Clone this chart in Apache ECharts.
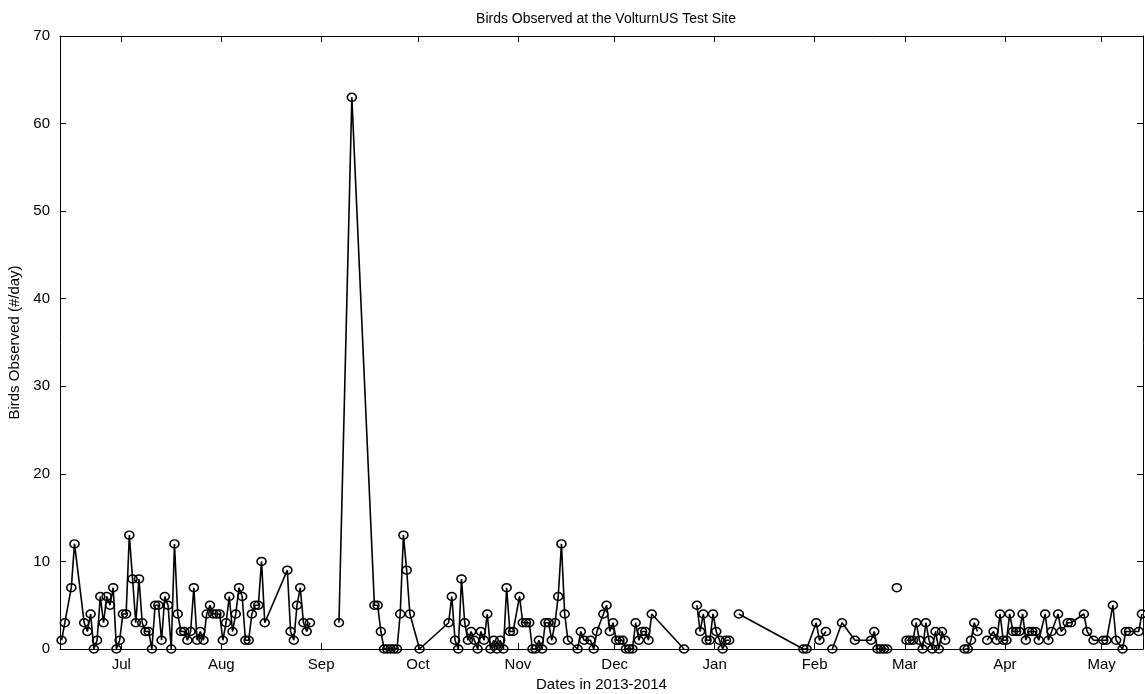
<!DOCTYPE html>
<html>
<head>
<meta charset="utf-8">
<script src="https://cdn.jsdelivr.net/npm/echarts@6/dist/echarts.min.js"></script>
<style>
  html, body { margin: 0; padding: 0; background: #fff; }
  #chart { width: 1145px; height: 694px; }
</style>
</head>
<body>
<div id="chart"></div>
<script>
// daily counts; a null value breaks the line (no survey)
const obsDates = [
  '2013-06-12','2013-06-13','2013-06-15','2013-06-16','2013-06-19','2013-06-20','2013-06-21','2013-06-22',
  '2013-06-23','2013-06-24','2013-06-25','2013-06-26','2013-06-27','2013-06-28','2013-06-29','2013-06-30',
  '2013-07-01','2013-07-02','2013-07-03','2013-07-04','2013-07-05','2013-07-06','2013-07-07','2013-07-08',
  '2013-07-09','2013-07-10','2013-07-11','2013-07-12','2013-07-13','2013-07-14','2013-07-15','2013-07-16',
  '2013-07-17','2013-07-18','2013-07-19','2013-07-20','2013-07-21','2013-07-22','2013-07-23','2013-07-24',
  '2013-07-25','2013-07-26','2013-07-27','2013-07-28','2013-07-29','2013-07-30','2013-07-31',
  '2013-08-01','2013-08-02','2013-08-03','2013-08-04','2013-08-05','2013-08-06','2013-08-07','2013-08-08',
  '2013-08-09','2013-08-10','2013-08-11','2013-08-12','2013-08-13','2013-08-14',
  '2013-08-21','2013-08-22','2013-08-23','2013-08-24','2013-08-25','2013-08-26','2013-08-27','2013-08-28',
  '2013-09-01',
  '2013-09-06','2013-09-10','2013-09-17','2013-09-18','2013-09-19','2013-09-20','2013-09-21','2013-09-22',
  '2013-09-23','2013-09-24','2013-09-25','2013-09-26','2013-09-27','2013-09-28',
  '2013-10-01','2013-10-10','2013-10-11','2013-10-12','2013-10-13','2013-10-14','2013-10-15','2013-10-16',
  '2013-10-17','2013-10-18','2013-10-19','2013-10-20','2013-10-21','2013-10-22','2013-10-23','2013-10-24',
  '2013-10-25','2013-10-26','2013-10-27','2013-10-28','2013-10-29','2013-10-30',
  '2013-11-01','2013-11-02','2013-11-03','2013-11-04','2013-11-05','2013-11-06','2013-11-07','2013-11-08',
  '2013-11-09','2013-11-10','2013-11-11','2013-11-12','2013-11-13','2013-11-14','2013-11-15','2013-11-16',
  '2013-11-19','2013-11-20','2013-11-21','2013-11-23','2013-11-24','2013-11-25','2013-11-27','2013-11-28',
  '2013-11-29','2013-11-30',
  '2013-12-01','2013-12-02','2013-12-03','2013-12-04','2013-12-05','2013-12-06','2013-12-07','2013-12-08',
  '2013-12-09','2013-12-10','2013-12-11','2013-12-12','2013-12-22','2013-12-24',
  '2013-12-26','2013-12-27','2013-12-28','2013-12-29','2013-12-30','2013-12-31',
  '2014-01-01','2014-01-02','2014-01-03','2014-01-04','2014-01-05','2014-01-06',
  '2014-01-08','2014-01-28','2014-01-29',
  '2014-02-01','2014-02-02','2014-02-04','2014-02-05',
  '2014-02-06','2014-02-09','2014-02-13','2014-02-18','2014-02-19','2014-02-20','2014-02-21','2014-02-22',
  '2014-02-23','2014-02-24','2014-02-26','2014-02-27',
  '2014-03-01','2014-03-02','2014-03-03','2014-03-04','2014-03-05','2014-03-06','2014-03-07','2014-03-08',
  '2014-03-09','2014-03-10','2014-03-11','2014-03-12','2014-03-13','2014-03-16',
  '2014-03-19','2014-03-20','2014-03-21','2014-03-22','2014-03-23','2014-03-24',
  '2014-03-26','2014-03-28','2014-03-29','2014-03-30','2014-03-31',
  '2014-04-01','2014-04-02','2014-04-03','2014-04-04','2014-04-05','2014-04-06','2014-04-07','2014-04-08',
  '2014-04-09','2014-04-10','2014-04-11','2014-04-13','2014-04-14','2014-04-15','2014-04-17','2014-04-18',
  '2014-04-20','2014-04-21','2014-04-25','2014-04-26','2014-04-28',
  '2014-05-01','2014-05-02','2014-05-04','2014-05-05','2014-05-07','2014-05-08','2014-05-09','2014-05-12',
  '2014-05-13'
];

const birdCounts = [
  1, 3, 7, 12, 3, 2, 4, 0,
  1, 6, 3, 6, 5, 7, 0, 1,
  4, 4, 13, 8, 3, 8, 3, 2,
  2, 0, 5, 5, 1, 6, 5, 0,
  12, 4, 2, 2, 1, 2, 7, 1,
  2, 1, 4, 5, 4, 4, 4,
  1, 3, 6, 2, 4, 7, 6, 1,
  1, 4, 5, 5, 10, 3,
  9, 2, 1, 5, 7, 3, 2, 3,
  null,
  3, 63, 5, 5, 2, 0, 0, 0,
  0, 0, 4, 13, 9, 4,
  0, 3, 6, 1, 0, 8, 3, 1,
  2, 1, 0, 2, 1, 4, 0, 1,
  0, 1, 0, 7, 2, 2,
  6, 3, 3, 3, 0, 0, 1, 0,
  3, 3, 1, 3, 6, 12, 4, 1,
  0, 2, 1, 1, 0, 2, 4, 5,
  2, 3,
  1, 1, 1, 0, 0, 0, 3, 1,
  2, 2, 1, 4, 0, null,
  5, 2, 4, 1, 1, 4,
  2, 1, 0, 1, 1, null,
  4, 0, 0,
  3, 1, 2, null,
  0, 3, 1, 1, 2, 0, 0, 0,
  0, null, 7, null,
  1, 1, 1, 3, 1, 0, 3, 1,
  0, 2, 0, 2, 1, null,
  0, 0, 1, 3, 2, null,
  1, 2, 1, 4, 1,
  1, 4, 2, 2, 2, 4, 1, 2,
  2, 2, 1, 4, 1, 2, 4, 2,
  3, 3, 4, 2, 1,
  1, 1, 5, 1, 0, 2, 2, 2,
  4
];

const monthTicks = ['2013-07-01', '2013-08-01', '2013-09-01', '2013-10-01', '2013-11-01', '2013-12-01',
  '2014-01-01', '2014-02-01', '2014-03-01', '2014-04-01', '2014-05-01'];
const monthLabels = ['Jul', 'Aug', 'Sep', 'Oct', 'Nov', 'Dec', 'Jan', 'Feb', 'Mar', 'Apr', 'May'];
const yTicks = [0, 10, 20, 30, 40, 50, 60, 70];

const chart = echarts.init(document.getElementById('chart'));

// x is a plain value axis in milliseconds so month ticks can be placed exactly
const toMs = d => +echarts.time.parse(d);
const tickTimes = monthTicks.map(toMs);
const xMin = toMs('2013-06-12');
const xMax = toMs('2014-05-13 20:00');
const font = 'Liberation Sans, Arial, sans-serif';

const xAxisBase = {
  type: 'value',
  min: xMin,
  max: xMax,
  splitLine: { show: false },
  axisLine: { onZero: false, lineStyle: { color: '#000', width: 1 } },
  axisTick: { show: true, inside: true, length: 6, customValues: tickTimes, lineStyle: { color: '#000' } },
  axisPointer: { show: false }
};

const yAxisBase = {
  type: 'value',
  min: 0,
  max: 70,
  interval: 10,
  splitLine: { show: false },
  axisLine: { show: true, onZero: false, lineStyle: { color: '#000', width: 1 } },
  axisTick: { show: true, inside: true, length: 6, lineStyle: { color: '#000' } }
};

const option = {
  animation: false,
  backgroundColor: '#fff',
  title: {
    text: 'Birds Observed at the VolturnUS Test Site',
    left: 601,
    top: 7,
    textAlign: 'center',
    textStyle: { fontFamily: font, fontSize: 14, fontWeight: 'normal', color: '#000' }
  },
  grid: { left: 60, right: 2, top: 36, bottom: 45, outerBoundsMode: 'none' },
  xAxis: [
    {
      ...xAxisBase,
      position: 'bottom',
      name: 'Dates in 2013-2014',
      nameLocation: 'middle',
      nameGap: 28,
      nameTextStyle: { fontFamily: font, fontSize: 15, color: '#000' },
      axisLabel: {
        show: true,
        customValues: tickTimes,
        fontFamily: font,
        fontSize: 15,
        color: '#000',
        margin: 8,
        formatter: v => monthLabels[tickTimes.indexOf(v)] || ''
      }
    },
    { ...xAxisBase, position: 'top', axisLabel: { show: false } }
  ],
  yAxis: [
    {
      ...yAxisBase,
      position: 'left',
      name: 'Birds Observed (#/day)',
      nameLocation: 'middle',
      nameGap: 34,
      nameTextStyle: { fontFamily: font, fontSize: 15, color: '#000' },
      axisLabel: {
        fontFamily: font, fontSize: 15, color: '#000', margin: 10,
        formatter: v => (yTicks.includes(v) ? String(v) : '')
      }
    },
    { ...yAxisBase, position: 'right', axisLabel: { show: false } }
  ],
  series: [{
    type: 'line',
    // counts are daily totals, plotted at midday of each date
    data: obsDates.map((d, i) => [toMs(d + ' 12:00'), birdCounts[i]]),
    connectNulls: false,
    symbol: 'circle',
    symbolSize: [9, 8],
    showSymbol: true,
    clip: false,
    lineStyle: { color: '#000', width: 1.6 },
    itemStyle: { color: 'rgba(0,0,0,0)', borderColor: '#000', borderWidth: 1.5 },
    emphasis: { disabled: true }
  }]
};

chart.setOption(option);
</script>
</body>
</html>
